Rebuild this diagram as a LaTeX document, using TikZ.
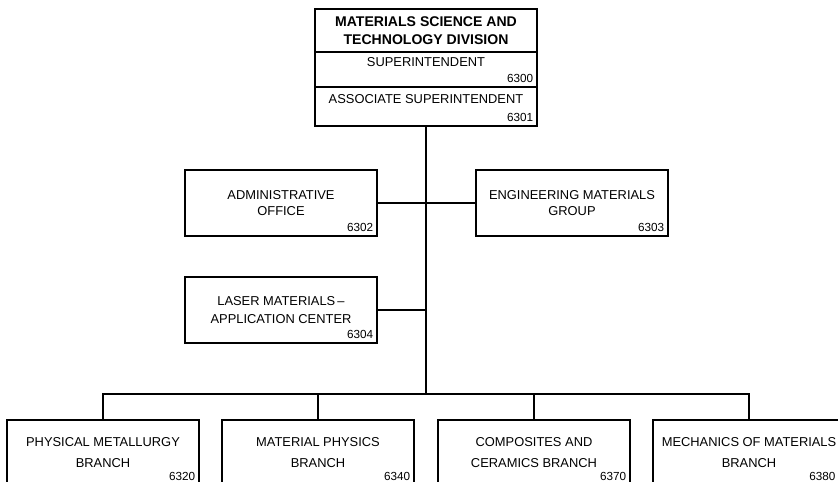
\documentclass[tikz,border=0pt]{standalone}
\usepackage{fontspec}
\setmainfont{Liberation Sans}
\usetikzlibrary{positioning}

\begin{document}
\begin{tikzpicture}[x=0.03cm, y=-0.03cm,
  unitbox/.style={draw, line width=1.6pt, outer sep=0pt, inner sep=0pt,
    minimum width=5.76cm, minimum height=1.98cm, align=center,
    font=\fontsize{11}{14}\selectfont},
  branchbox/.style={unitbox, minimum height=1.95cm, font=\fontsize{11}{18}\selectfont},
  rowbox/.style={draw, line width=1.6pt, outer sep=0pt, inner sep=0pt,
    minimum width=6.66cm, font=\fontsize{11}{14}\selectfont},
  code/.style={anchor=south east, inner xsep=3pt, inner ysep=3.5pt,
    font=\fontsize{10}{12}\selectfont},
  link/.style={line width=1.6pt, line cap=rect}]
% frame of the picture, boxes at the bottom run off the edge
\useasboundingbox (0,0) rectangle (838,482);
\clip (0,0) rectangle (838,482);

% division head, three rows
\node[unitbox, anchor=north west, minimum width=6.66cm, minimum height=1.29cm,
  font=\bfseries\fontsize{12}{15.4}\selectfont] (div) at (315,9)
  {MATERIALS SCIENCE AND\\TECHNOLOGY DIVISION};
\node[rowbox, below=0pt of div, text height=12.5pt, text depth=17.4pt] (sup) {SUPERINTENDENT};
\node[code] (supno) at (sup.south east) {6300};
\node[rowbox, below=0pt of sup, text height=14.2pt, text depth=19.1pt] (assoc) {ASSOCIATE SUPERINTENDENT};
\node[code] (assocno) at (assoc.south east) {6301};

% staff units
\node[unitbox, anchor=north west] (admin) at (185,170) {ADMINISTRATIVE\\OFFICE};
\node[code] (adminno) at (admin.south east) {6302};
\node[unitbox, anchor=north west] (eng) at (476,170) {ENGINEERING MATERIALS\\GROUP};
\node[code] (engno) at (eng.south east) {6303};
\node[unitbox, anchor=north west, font=\fontsize{11}{16}\selectfont] (laser) at (185,277)
  {LASER MATERIALS\,--\\APPLICATION CENTER};
\node[code] (laserno) at (laser.south east) {6304};

% branches
\node[branchbox, anchor=north west] (pm) at (7,420) {PHYSICAL METALLURGY\\BRANCH};
\node[code] (pmno) at (pm.south east) {6320};
\node[branchbox, anchor=north west] (mp) at (222,420) {MATERIAL PHYSICS\\BRANCH};
\node[code] (mpno) at (mp.south east) {6340};
\node[branchbox, anchor=north west] (comp) at (438,420) {COMPOSITES AND\\CERAMICS BRANCH};
\node[code] (compno) at (comp.south east) {6370};
\node[branchbox, anchor=north west] (mech) at (653,420) {MECHANICS OF MATERIALS\\BRANCH};
\node[code, xshift=-5pt] (mechno) at (mech.south east) {6380};

% lines of authority
\coordinate (hub) at (426,394);
\draw[link] (assoc.south) -- (hub);
\draw[link] (admin.east) -- (eng.west);
\draw[link] (laser.east) -- (laser.east -| hub);
\draw[link] (pm.north |- hub) -- (mech.north |- hub);
\foreach \b in {pm,mp,comp,mech}
  \draw[link] (\b.north |- hub) -- (\b.north);
\end{tikzpicture}
\end{document}
